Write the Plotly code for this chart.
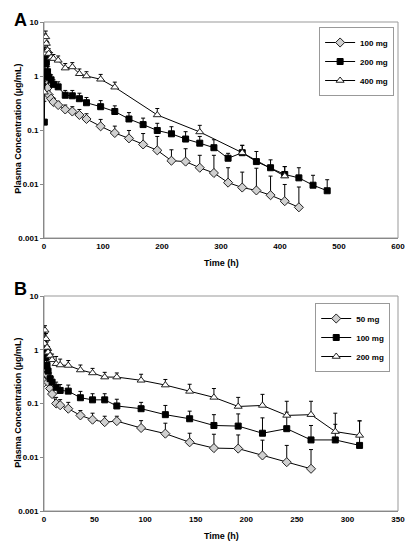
import plotly.graph_objects as go

# ---------------- Panel A data ----------------
t_A_100 = [0.5, 1, 2, 4, 6, 8, 12, 16, 24, 36, 48, 60, 72, 96, 120, 144, 168, 192, 216, 240, 264, 288, 312, 336, 360, 384, 408, 432]
c_A_100 = [0.6, 1.3, 1.5, 0.85, 0.6, 0.45, 0.38, 0.33, 0.29, 0.24, 0.22, 0.19, 0.16, 0.117, 0.088, 0.07, 0.054, 0.042, 0.027, 0.026, 0.020, 0.016, 0.0106, 0.0086, 0.0076, 0.0062, 0.0048, 0.0037]
e_A_100 = [0.1, 0.3, 0.4, 0.2, 0.12, 0.08, 0.07, 0.06, 0.05, 0.05, 0.05, 0.05, 0.04, 0.04, 0.03, 0.028, 0.032, 0.034, 0.016, 0.019, 0.014, 0.018, 0.0094, 0.008, 0.012, 0.0078, 0.005, 0.0051]

t_A_200 = [0.5, 1, 2, 3, 4, 6, 8, 12, 16, 24, 36, 48, 60, 72, 96, 120, 144, 168, 192, 216, 240, 264, 288, 312, 336, 360, 384, 408, 432, 456, 480]
c_A_200 = [0.14, 1.0, 1.7, 2.1, 1.8, 1.2, 0.95, 0.85, 0.7, 0.63, 0.44, 0.43, 0.38, 0.32, 0.27, 0.22, 0.16, 0.126, 0.098, 0.085, 0.068, 0.057, 0.047, 0.030, 0.038, 0.026, 0.020, 0.015, 0.013, 0.0095, 0.0075]
e_A_200 = [0.2, 0.3, 0.5, 0.5, 0.4, 0.3, 0.25, 0.2, 0.15, 0.15, 0.1, 0.11, 0.1, 0.08, 0.08, 0.06, 0.05, 0.04, 0.035, 0.03, 0.025, 0.019, 0.019, 0.007, 0.014, 0.014, 0.008, 0.006, 0.007, 0.005, 0.0045]

t_A_400 = [0.5, 1, 2, 3, 4, 6, 8, 12, 16, 24, 36, 48, 60, 72, 96, 120, 192, 264, 336, 408]
c_A_400 = [0.5, 2.6, 4.5, 5.3, 4.0, 3.0, 2.6, 2.2, 2.1, 1.95, 1.4, 1.47, 1.1, 1.0, 0.87, 0.62, 0.19, 0.092, 0.038, 0.014]
e_A_400 = [0.3, 0.8, 1.5, 1.5, 1.0, 0.8, 0.6, 0.5, 0.4, 0.4, 0.3, 0.3, 0.25, 0.2, 0.2, 0.15, 0.06, 0.03, 0.014, 0.007]

# ---------------- Panel B data ----------------
t_B_50 = [0.5, 1, 2, 3, 4, 6, 8, 12, 16, 24, 36, 48, 60, 72, 96, 120, 144, 168, 192, 216, 240, 264]
c_B_50 = [0.25, 0.63, 0.45, 0.35, 0.25, 0.19, 0.15, 0.10, 0.093, 0.08, 0.060, 0.050, 0.045, 0.047, 0.035, 0.0275, 0.019, 0.0148, 0.0145, 0.0108, 0.0081, 0.0061]
e_B_50 = [0.05, 0.15, 0.1, 0.08, 0.06, 0.05, 0.04, 0.03, 0.025, 0.025, 0.014, 0.016, 0.013, 0.011, 0.013, 0.0155, 0.009, 0.012, 0.0115, 0.010, 0.0085, 0.0078]

t_B_100 = [0.5, 1, 2, 3, 4, 6, 8, 12, 16, 24, 36, 48, 60, 72, 96, 120, 144, 168, 192, 216, 240, 264, 288, 312]
c_B_100 = [0.5, 1.0, 0.73, 0.51, 0.4, 0.29, 0.25, 0.20, 0.175, 0.17, 0.128, 0.117, 0.117, 0.09, 0.08, 0.062, 0.052, 0.039, 0.038, 0.028, 0.034, 0.021, 0.021, 0.0166]
e_B_100 = [0.15, 0.3, 0.2, 0.12, 0.1, 0.08, 0.06, 0.05, 0.05, 0.05, 0.04, 0.035, 0.035, 0.03, 0.025, 0.03, 0.02, 0.023, 0.026, 0.026, 0.035, 0.018, 0.02, 0.031]

t_B_200 = [0.5, 1, 2, 3, 4, 6, 8, 12, 16, 24, 36, 48, 60, 72, 96, 120, 144, 168, 192, 216, 240, 264, 288, 312]
c_B_200 = [1.3, 2.3, 1.6, 1.1, 0.9, 0.78, 0.65, 0.55, 0.52, 0.51, 0.42, 0.37, 0.31, 0.31, 0.27, 0.22, 0.168, 0.13, 0.088, 0.092, 0.060, 0.062, 0.030, 0.0255]
e_B_200 = [0.4, 0.5, 0.4, 0.3, 0.25, 0.2, 0.18, 0.2, 0.15, 0.12, 0.1, 0.08, 0.07, 0.06, 0.08, 0.06, 0.06, 0.06, 0.042, 0.056, 0.05, 0.048, 0.036, 0.022]

x_ticks_A = [0, 100, 200, 300, 400, 500, 600]
x_ticks_B = [0, 50, 100, 150, 200, 250, 300, 350]
y_tickvals = [0.001, 0.01, 0.1, 1, 10]
y_ticktext = ["0.001", "0.01", "0.1", "1", "10"]

FONT = "Liberation Sans, Arial, sans-serif"

# The page has an 8px body margin, so the figure is 8px smaller than the window.
W, H = 407, 536
ML, MR, MT, MB = 33, 10, 14, 33
PW = W - ML - MR  # 364
PH = H - MT - MB  # 489


def px_x(page_x):
    return (page_x - 8 - ML) / PW


def px_y(page_y):
    return (H - MB - (page_y - 8)) / PH


styles = {
    "diamond": dict(symbol="diamond", size=7, color="#d0d0d0", line=dict(color="#222", width=1)),
    "square": dict(symbol="square", size=6, color="#000", line=dict(color="#000", width=1)),
    "triangle": dict(symbol="triangle-up", size=7, color="#fff", line=dict(color="#222", width=1)),
}

fig = go.Figure()


def add(t, c, e, name, style, xa, ya, legend):
    fig.add_trace(go.Scatter(
        x=t, y=c, name=name, mode="lines+markers",
        line=dict(color="#000", width=1),
        marker=styles[style],
        error_y=dict(type="data", symmetric=False, array=e, arrayminus=[0] * len(e),
                     color="#000", thickness=1, width=2),
        xaxis=xa, yaxis=ya, legend=legend,
    ))


add(t_A_100, c_A_100, e_A_100, "100 mg", "diamond", "x", "y", "legend")
add(t_A_200, c_A_200, e_A_200, "200 mg", "square", "x", "y", "legend")
add(t_A_400, c_A_400, e_A_400, "400 mg", "triangle", "x", "y", "legend")
add(t_B_50, c_B_50, e_B_50, "50 mg", "diamond", "x2", "y2", "legend2")
add(t_B_100, c_B_100, e_B_100, "100 mg", "square", "x2", "y2", "legend2")
add(t_B_200, c_B_200, e_B_200, "200 mg", "triangle", "x2", "y2", "legend2")

tickfont = dict(family=FONT, size=8, color="#000", weight="bold")
xcommon = dict(showline=True, linecolor="#888", linewidth=1, showgrid=False, zeroline=False,
               ticks="", tickfont=tickfont)
ycommon = dict(showline=True, linecolor="#888", linewidth=1, showgrid=False, zeroline=False,
               ticks="outside", ticklen=3, tickcolor="#888", tickfont=tickfont)

legfont = dict(family=FONT, size=8, color="#000", weight="bold")

fig.update_layout(
    width=W, height=H,
    margin=dict(l=ML, r=MR, t=MT, b=MB),
    paper_bgcolor="#fff", plot_bgcolor="#fff",
    showlegend=True,
    xaxis=dict(domain=[0, 1], range=[0, 600], tickvals=x_ticks_A, anchor="y", **xcommon),
    yaxis=dict(domain=[px_y(238), px_y(22)], type="log", range=[-3, 1], tickvals=y_tickvals,
               ticktext=y_ticktext, anchor="x", **ycommon),
    xaxis2=dict(domain=[0, 1], range=[0, 350], tickvals=x_ticks_B, anchor="y2", **xcommon),
    yaxis2=dict(domain=[px_y(511), px_y(296)], type="log", range=[-3, 1], tickvals=y_tickvals,
                ticktext=y_ticktext, anchor="x2", **ycommon),
    legend=dict(x=px_x(401), y=px_y(27), xanchor="right", yanchor="top", bgcolor="#fff",
                bordercolor="#999", borderwidth=1, itemwidth=30, font=legfont, tracegroupgap=0),
    legend2=dict(x=px_x(397), y=px_y(303), xanchor="right", yanchor="top", bgcolor="#fff",
                 bordercolor="#999", borderwidth=1, itemwidth=30, font=legfont, tracegroupgap=0),
)

# plot-area frames (gray)
for xr, yr in (("x domain", "y domain"), ("x2 domain", "y2 domain")):
    fig.add_shape(type="rect", xref=xr, yref=yr, x0=0, x1=1, y0=0, y1=1,
                  line=dict(color="#999", width=1), layer="below")

titlefont = dict(family=FONT, size=9, color="#000")
letterfont = dict(family=FONT, size=18, color="#000")

# panel letters
fig.add_annotation(text="<b>A</b>", xref="paper", yref="paper", x=px_x(8), y=px_y(8.5),
                   xanchor="left", yanchor="top", showarrow=False, font=letterfont)
fig.add_annotation(text="<b>B</b>", xref="paper", yref="paper", x=px_x(8), y=px_y(289),
                   xanchor="left", yanchor="middle", showarrow=False, font=letterfont)

# axis titles
for yc in (px_y(263), px_y(536)):
    fig.add_annotation(text="<b>Time (h)</b>", xref="paper", yref="paper", x=0.5, y=yc,
                       xanchor="center", yanchor="middle", showarrow=False, font=titlefont)
for yc in (px_y(129), px_y(403)):
    fig.add_annotation(text="<b>Plasma Concentration (µg/mL)</b>", xref="paper", yref="paper",
                       x=px_x(14), y=yc, xanchor="center", yanchor="middle", textangle=-90,
                       showarrow=False, font=titlefont)

fig.write_html("out.html")
